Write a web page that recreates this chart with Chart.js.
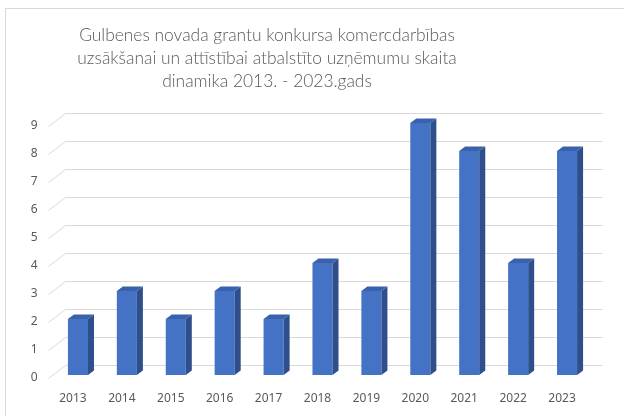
<!DOCTYPE html>
<html>
<head>
<meta charset="utf-8">
<script src="https://cdn.jsdelivr.net/npm/chart.js@4.4.0/dist/chart.umd.min.js"></script>
<style>
  html, body { margin: 0; padding: 0; background: #ffffff; }
  canvas { display: block; }
</style>
</head>
<body>
<canvas id="chart" width="624" height="416"></canvas>
<script>
// chart data
const years = ['2013', '2014', '2015', '2016', '2017', '2018', '2019', '2020', '2021', '2022', '2023'];
const companies = [2, 3, 2, 3, 2, 4, 3, 9, 8, 4, 8];
const titleLines = [
    'Gulbenes novada grantu konkursa komercdarbības',
    'uzsākšanai un attīstībai atbalstīto uzņēmumu skaita',
    'dinamika 2013. - 2023.gads'
];

const textColor = '#595959';
const gridColor = '#d9d9d9';
const depthX = 6, depthY = 4.5;     // bar depth
const floorX = 17, floorY = 13;     // grid depth

// fake 3D look: slanted grid lines, side + top faces on the bars
const threeD = {
    id: 'threeD',
    beforeDraw(chart) {
        const ctx = chart.ctx;
        ctx.save();
        ctx.strokeStyle = gridColor;
        ctx.lineWidth = 1;
        ctx.strokeRect(5.5, 8.5, 700, 500);
        ctx.restore();
    },
    beforeDatasetsDraw(chart) {
        const { ctx, chartArea, scales } = chart;
        ctx.save();
        ctx.strokeStyle = gridColor;
        ctx.lineWidth = 1;
        scales.y.ticks.forEach(t => {
            const py = Math.round(scales.y.getPixelForValue(t.value)) + 0.5;
            ctx.beginPath();
            ctx.moveTo(chartArea.left, py);
            ctx.lineTo(chartArea.left + floorX, py - floorY);
            ctx.lineTo(chartArea.right + 16, py - floorY);
            ctx.stroke();
        });
        ctx.restore();
        // bars sit a bit behind the front plane
        ctx.save();
        ctx.translate(5, -3);
    },
    afterDatasetsDraw(chart) {
        const ctx = chart.ctx;
        chart.getDatasetMeta(0).data.forEach(bar => {
            const l = bar.x - bar.width / 2, r = bar.x + bar.width / 2;
            const top = bar.y, base = bar.base;
            ctx.fillStyle = '#2e4e8c';
            ctx.beginPath();
            ctx.moveTo(r, top);
            ctx.lineTo(r + depthX, top - depthY);
            ctx.lineTo(r + depthX, base - depthY);
            ctx.lineTo(r, base);
            ctx.closePath();
            ctx.fill();
            ctx.fillStyle = '#3a61ab';
            ctx.beginPath();
            ctx.moveTo(l, top);
            ctx.lineTo(l + depthX, top - depthY);
            ctx.lineTo(r + depthX, top - depthY);
            ctx.lineTo(r, top);
            ctx.closePath();
            ctx.fill();
        });
        ctx.restore();
    },
    afterDraw(chart) {
        const ctx = chart.ctx;
        ctx.save();
        ctx.fillStyle = textColor;
        ctx.font = '300 17.4px Lato';
        ctx.textAlign = 'center';
        ctx.textBaseline = 'middle';
        titleLines.forEach((line, i) => ctx.fillText(line, 267, 35 + i * 23));
        ctx.restore();
    }
};

new Chart(document.getElementById('chart'), {
    type: 'bar',
    data: {
        labels: years,
        datasets: [{
            label: 'Uzņēmumu skaits',
            data: companies,
            backgroundColor: '#4472c4',
            borderWidth: 0,
            categoryPercentage: 1,
            barPercentage: 0.41
        }]
    },
    options: {
        responsive: false,
        animation: false,
        layout: { padding: { top: 126, left: 30.5, right: 37.5, bottom: 10.6 } },
        plugins: {
            legend: { display: false },
            title: { display: false },
            tooltip: { enabled: false }
        },
        scales: {
            x: {
                grid: { display: false, drawTicks: false },
                border: { display: false },
                ticks: { color: textColor, font: { family: 'Noto Sans', size: 12 }, padding: 13 },
                afterFit: s => { s.height = 27.4; }
            },
            y: {
                min: 0,
                max: 9,
                grid: { display: false, drawTicks: false },
                border: { display: false },
                ticks: { stepSize: 1, color: textColor, font: { family: 'Noto Sans', size: 12 }, padding: 11 },
                afterFit: s => { s.width = 18; }
            }
        }
    },
    plugins: [threeD]
});
</script>
</body>
</html>
